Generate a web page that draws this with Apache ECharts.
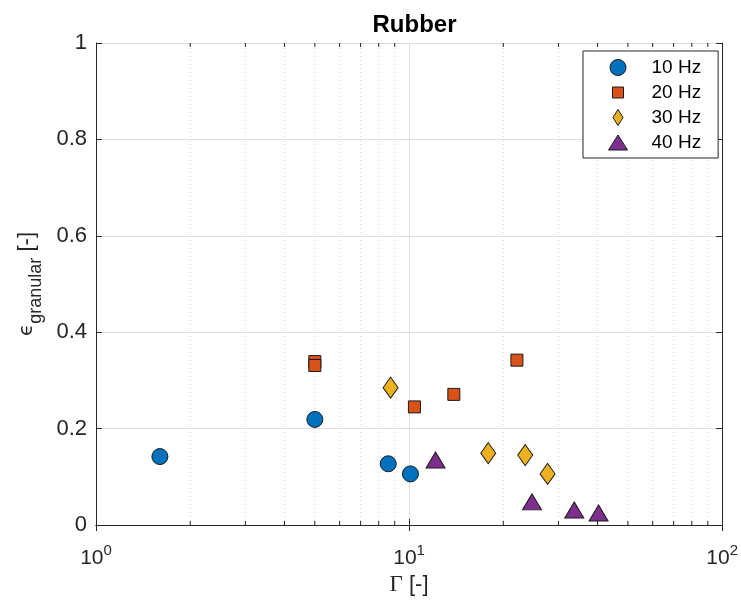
<!DOCTYPE html>
<html>
<head>
<meta charset="utf-8">
<script src="https://cdn.jsdelivr.net/npm/echarts@6/dist/echarts.min.js"></script>
<style>
  html, body { margin: 0; padding: 0; background: #fff; }
  #main { width: 741px; height: 603px; }
</style>
</head>
<body>
<div id="main"></div>
<script>
// Gamma values and granular efficiency per frequency
var gamma10 = [1.60, 5.0, 8.58, 10.1];
var eps10 = [0.142, 0.219, 0.127, 0.106];
var gamma20 = [5.0, 5.0, 10.4, 13.9, 22.1];
var eps20 = [0.339, 0.331, 0.245, 0.271, 0.342];
var gamma30 = [8.73, 17.9, 23.5, 27.7];
var eps30 = [0.285, 0.149, 0.145, 0.106];
var gamma40 = [12.15, 24.7, 33.7, 40.3];
var eps40 = [0.135, 0.048, 0.031, 0.025];
var names = ['10 Hz', '20 Hz', '30 Hz', '40 Hz'];
var minorX = [2, 3, 4, 5, 6, 7, 8, 9, 20, 30, 40, 50, 60, 70, 80, 90];

var font = 'Liberation Sans, Arial, Helvetica, sans-serif';
var axisCol = '#262626';

function pairs(xs, ys) {
    var out = [];
    for (var i = 0; i < xs.length; i++) out.push([xs[i], ys[i]]);
    return out;
}

var myChart = echarts.init(document.getElementById('main'));

var edge = {borderColor: '#1a1a1a', borderWidth: 1, opacity: 1};

var option = {
    animation: false,
    backgroundColor: '#fff',
    title: {
        text: 'Rubber',
        left: 409.5,
        textAlign: 'center',
        top: 8,
        textStyle: {fontFamily: font, fontSize: 24, fontWeight: 'bold', color: '#000'}
    },
    grid: {left: 96, right: 18, top: 43, bottom: 78},
    legend: {
        left: 583,
        top: 51,
        orient: 'vertical',
        padding: [7, 17, 6, 25],
        itemWidth: 57,
        itemHeight: 16,
        itemGap: 6,
        backgroundColor: '#fff',
        borderColor: axisCol,
        borderWidth: 1,
        borderRadius: 0,
        itemStyle: {borderColor: '#1a1a1a', borderWidth: 1, opacity: 1},
        textStyle: {fontFamily: font, fontSize: 19, color: '#000'},
        data: [
            {name: names[0], icon: 'circle'},
            {name: names[1], icon: 'path://M0,0M16,16M2.5,2.5L13.5,2.5L13.5,13.5L2.5,13.5Z'},
            {name: names[2], icon: 'path://M0,0M16,16M8,0L13,8L8,16L3,8Z'},
            {name: names[3], icon: 'path://M0,0M19,16M9.5,0.5L19,15.5L0,15.5Z'}
        ]
    },
    xAxis: [{
        type: 'log',
        logBase: 10,
        min: 1,
        max: 100,
        name: '{g|Γ}{n| [-]}',
        nameLocation: 'middle',
        nameGap: 48,
        nameTextStyle: {
            rich: {
                g: {fontFamily: 'Liberation Serif, Times New Roman, serif', fontSize: 23, color: axisCol},
                n: {fontFamily: font, fontSize: 22, color: axisCol}
            }
        },
        axisLine: {show: true, lineStyle: {color: axisCol, width: 1}},
        axisTick: {show: true, inside: true, length: 6, lineStyle: {color: axisCol}},
        axisLabel: {
            margin: 18,
            formatter: function (v) {
                return '{b|10}{s|' + Math.round(Math.log10(v)) + '}';
            },
            rich: {
                b: {fontFamily: font, fontSize: 21, color: axisCol, lineHeight: 30},
                s: {fontFamily: font, fontSize: 15, color: axisCol, verticalAlign: 'top', lineHeight: 30}
            }
        },
        splitLine: {show: true, lineStyle: {color: '#dfdfdf', width: 1}}
    }, {
        type: 'log',
        logBase: 10,
        min: 1,
        max: 100,
        position: 'top',
        axisLine: {show: true, lineStyle: {color: axisCol, width: 1}},
        axisTick: {show: true, inside: true, length: 6, lineStyle: {color: axisCol}},
        axisLabel: {show: false},
        splitLine: {show: false}
    }],
    yAxis: [{
        type: 'value',
        min: 0,
        max: 1,
        interval: 0.2,
        name: '{e|ϵ}{s|granular}{n| [-]}',
        nameLocation: 'middle',
        nameGap: 50,
        nameTextStyle: {
            rich: {
                e: {fontFamily: 'DejaVu Sans, sans-serif', fontSize: 20, color: axisCol, lineHeight: 38},
                s: {fontFamily: font, fontSize: 18, color: axisCol, verticalAlign: 'bottom', lineHeight: 38},
                n: {fontFamily: font, fontSize: 22, color: axisCol, lineHeight: 38}
            }
        },
        axisLine: {show: true, lineStyle: {color: axisCol, width: 1}},
        axisTick: {show: true, inside: true, length: 6, lineStyle: {color: axisCol}},
        axisLabel: {margin: 9, fontFamily: font, fontSize: 22, color: axisCol},
        splitLine: {show: true, lineStyle: {color: '#dfdfdf', width: 1}}
    }, {
        type: 'value',
        min: 0,
        max: 1,
        interval: 0.2,
        position: 'right',
        axisLine: {show: true, lineStyle: {color: axisCol, width: 1}},
        axisTick: {show: true, inside: true, length: 6, lineStyle: {color: axisCol}},
        axisLabel: {show: false},
        splitLine: {show: false}
    }],
    series: [{
        // dotted minor grid + minor ticks of the log axis
        type: 'custom',
        silent: true,
        z: 1,
        data: minorX.map(function (v) { return [v, 0]; }),
        encode: {x: 0, y: 1},
        renderItem: function (params, api) {
            var x = api.value(0);
            var b = api.coord([x, 0]);
            var t = api.coord([x, 1]);
            return {
                type: 'group',
                children: [{
                    type: 'line',
                    shape: {x1: b[0], y1: b[1], x2: t[0], y2: t[1]},
                    style: {stroke: '#d4d4d4', lineWidth: 1, lineDash: [1, 3]}
                }, {
                    type: 'line',
                    shape: {x1: b[0], y1: b[1], x2: b[0], y2: b[1] - 4},
                    style: {stroke: axisCol, lineWidth: 1}
                }, {
                    type: 'line',
                    shape: {x1: t[0], y1: t[1], x2: t[0], y2: t[1] + 4},
                    style: {stroke: axisCol, lineWidth: 1}
                }]
            };
        }
    }, {
        name: names[0],
        type: 'scatter',
        z: 3,
        symbol: 'circle',
        symbolSize: 16,
        itemStyle: Object.assign({color: '#0072BD'}, edge),
        data: pairs(gamma10, eps10)
    }, {
        name: names[1],
        type: 'scatter',
        z: 3,
        symbol: 'rect',
        symbolSize: 12,
        itemStyle: Object.assign({color: '#D95319'}, edge),
        data: pairs(gamma20, eps20)
    }, {
        name: names[2],
        type: 'scatter',
        z: 3,
        symbol: 'diamond',
        symbolSize: [15, 21],
        itemStyle: Object.assign({color: '#EDB120'}, edge),
        data: pairs(gamma30, eps30)
    }, {
        name: names[3],
        type: 'scatter',
        z: 3,
        symbol: 'triangle',
        symbolSize: [19, 16],
        itemStyle: Object.assign({color: '#7E2F8E'}, edge),
        data: pairs(gamma40, eps40)
    }]
};

myChart.setOption(option);
</script>
</body>
</html>
